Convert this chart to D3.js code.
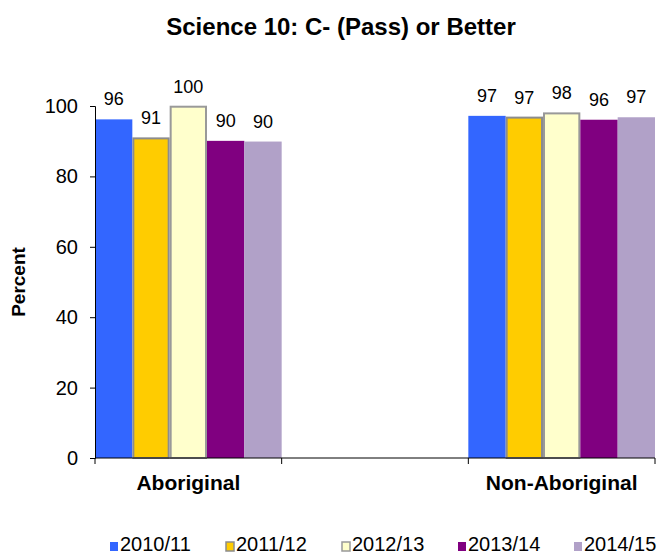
<!DOCTYPE html>
<html>
<head>
<meta charset="utf-8">
<title>Science 10</title>
<style>
body { margin: 0; background: #fff; }
text { font-family: "Liberation Sans", Arial, sans-serif; fill: #000; }
.axis path, .axis line { stroke: #000; stroke-width: 1px; }
</style>
</head>
<body>
<script src="https://cdn.jsdelivr.net/npm/d3@7"></script>
<script>

// data
var categories = ["Aboriginal", "", "Non-Aboriginal"];
var years = ["2010/11", "2011/12", "2012/13", "2013/14", "2014/15"];
var aboriginal = [96.2, 90.8, 99.8, 90.1, 89.9];
var nonAboriginal = [97.2, 96.7, 97.9, 96.1, 96.8];
var yTicks = [0, 20, 40, 60, 80, 100];

var colors = ["#3366ff", "#ffcc00", "#ffffcc", "#800080", "#b1a1c8"];
var strokes = [null, "#8c8c8c", "#999999", null, null];

var width = 663,
    height = 554;

var margin = {left: 95, right: 8, top: 106, bottom: 96};

var svg = d3.select("body").append("svg")
    .attr("width", width)
    .attr("height", height);

var rows = [];
categories.forEach(function(c) {
  var vals = c === "Aboriginal" ? aboriginal : (c === "Non-Aboriginal" ? nonAboriginal : null);
  if (!vals) return;
  years.forEach(function(yr, j) {
    rows.push({cat: c, year: yr, idx: j, value: vals[j]});
  });
});

var x = d3.scaleBand()
    .domain(categories)
    .range([margin.left, width - margin.right])
    .padding(0);

var xInner = d3.scaleBand()
    .domain(years)
    .range([0, x.bandwidth()])
    .padding(0);

var y = d3.scaleLinear()
    .domain([0, 100])
    .range([height - margin.bottom, margin.top]);

// bars
svg.append("g")
  .selectAll("rect")
  .data(rows)
  .enter().append("rect")
    .attr("x", function(d) { return x(d.cat) + xInner(d.year) + (strokes[d.idx] ? 1 : 0); })
    .attr("y", function(d) { return y(d.value); })
    .attr("width", function(d) { return xInner.bandwidth() - (strokes[d.idx] ? 2 : 0); })
    .attr("height", function(d) { return y(0) - y(d.value); })
    .attr("fill", function(d) { return colors[d.idx]; })
    .attr("stroke", function(d) { return strokes[d.idx] || "none"; })
    .attr("stroke-width", 2);

// value labels
svg.append("g")
  .selectAll("text")
  .data(rows)
  .enter().append("text")
    .attr("x", function(d) { return x(d.cat) + xInner(d.year) + xInner.bandwidth() / 2; })
    .attr("y", function(d) { return y(d.value) - 14; })
    .attr("text-anchor", "middle")
    .style("font-size", "18px")
    .text(function(d) { return Math.round(d.value); });

// y axis
var yAxis = svg.append("g")
    .attr("class", "axis")
    .attr("transform", "translate(" + margin.left + ",0)")
    .call(d3.axisLeft(y).tickValues(yTicks).tickSize(5).tickPadding(12));
yAxis.selectAll("text").style("font-size", "20px").attr("fill", "#000");

// x axis
var xAxis = svg.append("g")
    .attr("class", "axis")
    .attr("transform", "translate(0," + y(0) + ")")
    .call(d3.axisBottom(x).tickSize(0).tickPadding(17));
xAxis.select(".domain").attr("d", "M" + x.range()[0] + ",0H" + x.range()[1]);
xAxis.selectAll("text")
    .style("font-size", "21px")
    .style("font-weight", "bold")
    .attr("fill", "#000");

// category boundary ticks
var bounds = categories.map(function(c) { return x(c); }).concat([x.range()[1]]);
xAxis.selectAll(".bound")
  .data(bounds)
  .enter().append("line")
    .attr("x1", function(d) { return d; })
    .attr("x2", function(d) { return d; })
    .attr("y1", 0)
    .attr("y2", 6)
    .attr("stroke", "#000");

// title
svg.append("text")
    .attr("x", 341)
    .attr("y", 35)
    .attr("text-anchor", "middle")
    .style("font-size", "24px")
    .style("font-weight", "bold")
    .text("Science 10: C- (Pass) or Better");

// y label
svg.append("text")
    .attr("transform", "translate(25," + ((y(0) + y(100)) / 2) + ") rotate(-90)")
    .attr("text-anchor", "middle")
    .style("font-size", "19px")
    .style("font-weight", "bold")
    .text("Percent");

// legend
var legend = svg.append("g")
  .selectAll("g")
  .data(years)
  .enter().append("g")
    .attr("transform", function(d, i) { return "translate(" + (110 + i * 116) + ",542)"; });

legend.append("rect")
    .attr("width", 8)
    .attr("height", 9)
    .attr("fill", function(d, i) { return colors[i]; })
    .attr("stroke", function(d, i) { return strokes[i] || "none"; })
    .attr("stroke-width", 1.5);

legend.append("text")
    .attr("x", 10)
    .attr("y", 9)
    .style("font-size", "20px")
    .text(function(d) { return d; });

</script>
</body>
</html>
